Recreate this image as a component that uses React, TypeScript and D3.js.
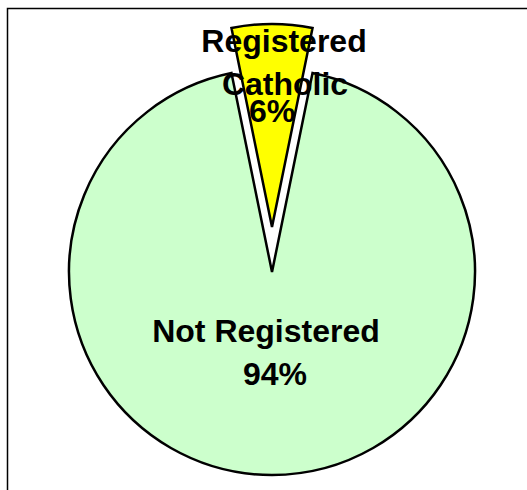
import * as d3 from "d3";

// chart data
const categories = ["Registered Catholic", "Not Registered"];
const values = [6.4, 93.6];
const percentLabels = ["6%", "94%"];
const labelLines = [
  ["Registered", "Catholic", "6%"],
  ["Not Registered", "94%"],
];
const colors = ["#FFFF00", "#CCFFCC"];

const width = 527;
const height = 490;
const cx = 272;
const cy = 272;
const radius = 203;
const explode = [45, 0];

// per-line label layout (dx from slice anchor, baseline y)
const lineLayout = [
  [
    { dx: 12, y: 52 },
    { dx: 13, y: 95 },
    { dx: 0, y: 122 },
  ],
  [
    { dx: -6, y: 342 },
    { dx: 3, y: 385 },
  ],
];

const App = () => {
  const half = (values[0] / d3.sum(values)) * Math.PI;
  const pie = d3
    .pie<number>()
    .sort(null)
    .startAngle(-half)
    .endAngle(2 * Math.PI - half)
    .value((d) => d);
  const arcs = pie(values);
  const arc = d3.arc<d3.PieArcDatum<number>>().innerRadius(0).outerRadius(radius);

  return (
    <svg
      width={width}
      height={height}
      style={{ position: "absolute", left: 0, top: 0, background: "#fff" }}
    >
      <rect x={7.5} y={8.5} width={width + 10} height={height + 10} fill="#fff" stroke="#000" strokeWidth={1.5} />
      {arcs.map((a, i) => {
        const mid = (a.startAngle + a.endAngle) / 2;
        const ox = Math.sin(mid) * explode[i];
        const oy = -Math.cos(mid) * explode[i];
        return (
          <path
            key={categories[i]}
            d={arc(a) || ""}
            transform={`translate(${cx + ox},${cy + oy})`}
            fill={colors[i]}
            stroke="#000"
            strokeWidth={2.5}
            strokeLinejoin="miter"
          />
        );
      })}
      {arcs.map((a, i) => (
        <g key={percentLabels[i]}>
          {labelLines[i].map((line, j) => (
            <text
              key={line}
              x={cx + lineLayout[i][j].dx}
              y={lineLayout[i][j].y}
              textAnchor="middle"
              fontFamily="Liberation Sans, Arial, sans-serif"
              fontWeight="bold"
              fontSize={32}
              fill="#000"
            >
              {line}
            </text>
          ))}
        </g>
      ))}
    </svg>
  );
};

export default App;
